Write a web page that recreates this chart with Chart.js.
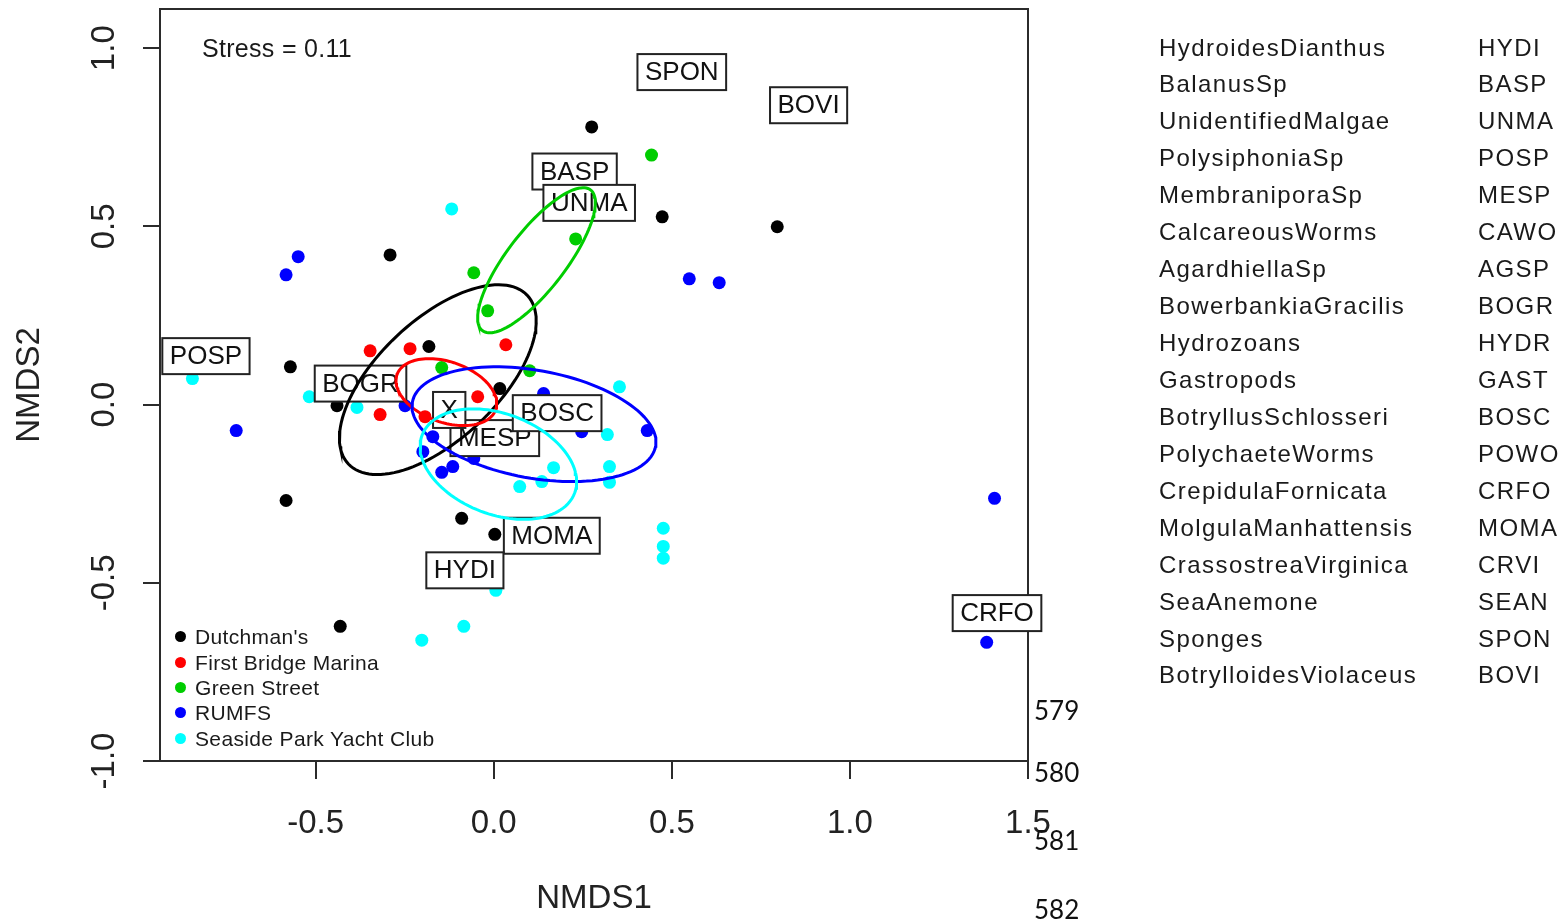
<!DOCTYPE html>
<html>
<head>
<meta charset="utf-8">
<title>NMDS of fouling communities</title>
<script src="https://cdn.jsdelivr.net/npm/chart.js@4.4.0/dist/chart.umd.min.js"></script>
<style>
  body { margin: 0; background: #fff; }
  #wrap { position: relative; width: 1568px; height: 921px; overflow: hidden; background: #fff; }
  #chart { position: absolute; left: 0; top: 0; }
  .txt { position: absolute; font-family: 'Liberation Sans', Arial, sans-serif; color: #1a1a1a; white-space: nowrap; }
  .sp { font-size: 24px; letter-spacing: 1.45px; height: 36.94px; line-height: 36.94px; }
  .leg { font-size: 21px; letter-spacing: 0.35px; height: 25px; line-height: 25px; }
  .dot { position: absolute; width: 11px; height: 11px; border-radius: 50%; }
  .ln { position: absolute; font-family: Lato, 'Open Sans', sans-serif; font-size: 26px; color: #111; line-height: 30px; }
</style>
</head>
<body>
<div id="wrap">
  <canvas id="chart" width="1568" height="921"></canvas>
  <div class="txt" style="left:202px; top:33px; font-size:25px; letter-spacing:0.3px; line-height:30px;">Stress = 0.11</div>
  <div id="legend"></div>
  <div id="species"></div>
  <div id="lineNums"></div>
</div>
<script>
// sites (groups)
const siteNames = ["Dutchman's", "First Bridge Marina", "Green Street", "RUMFS", "Seaside Park Yacht Club"];
const siteColors = ['#000000', '#ff0000', '#00cd00', '#0000ff', '#00ffff'];

// sample scores
const dutchmansX = [0.275, 0.473, 0.796, -0.291, -0.571, -0.182, 0.017, -0.440, -0.583, -0.090, 0.003, -0.431];
const dutchmansY = [0.779, 0.527, 0.499, 0.420, 0.106, 0.163, 0.045, -0.003, -0.269, -0.319, -0.364, -0.622];
const firstBridgeX = [-0.347, -0.235, 0.034, -0.319, -0.045, -0.193];
const firstBridgeY = [0.151, 0.157, 0.168, -0.028, 0.022, -0.034];
const greenStreetX = [0.443, 0.230, -0.056, -0.017, -0.146, 0.101];
const greenStreetY = [0.700, 0.465, 0.370, 0.263, 0.104, 0.095];
const rumfsX = [-0.549, -0.583, 0.549, 0.633, -0.723, 1.406, 1.384, 0.431, -0.171, -0.199, -0.146, -0.115, -0.249, 0.247, 0.140, -0.056];
const rumfsY = [0.415, 0.364, 0.353, 0.342, -0.073, -0.263, -0.667, -0.073, -0.090, -0.132, -0.190, -0.174, -0.003, -0.076, 0.031, -0.151];
const seasideX = [-0.118, -0.846, -0.518, -0.384, 0.353, 0.319, 0.325, 0.325, 0.168, 0.135, 0.073, 0.476, 0.476, 0.476, 0.006, -0.084, -0.202];
const seasideY = [0.549, 0.073, 0.022, -0.008, 0.050, -0.084, -0.174, -0.218, -0.177, -0.216, -0.230, -0.347, -0.398, -0.431, -0.521, -0.622, -0.661];

const siteX = [dutchmansX, firstBridgeX, greenStreetX, rumfsX, seasideX];
const siteY = [dutchmansY, firstBridgeY, greenStreetY, rumfsY, seasideY];

// group ellipses: centre, semi axes (NMDS units), tilt in degrees
const ellipseCenterX = [-0.157, -0.133, 0.120, 0.113, 0.013];
const ellipseCenterY = [0.070, 0.035, 0.405, -0.055, -0.167];
const ellipseSemiMajor = [0.345, 0.147, 0.249, 0.347, 0.229];
const ellipseSemiMinor = [0.168, 0.085, 0.082, 0.151, 0.141];
const ellipseAngle = [43.3, -19.5, 52.4, -10.3, -20.9];

// species labels shown in the ordination
const labelCodes = ['SPON', 'BOVI', 'BASP', 'UNMA', 'POSP', 'BOGR', 'MESP', 'BOSC', 'X', 'MOMA', 'HYDI', 'CRFO'];
const labelX = [0.528, 0.884, 0.227, 0.268, -0.808, -0.374, 0.003, 0.178, -0.125, 0.163, -0.081, 1.413];
const labelY = [0.933, 0.840, 0.654, 0.566, 0.136, 0.059, -0.094, -0.024, -0.015, -0.368, -0.465, -0.585];

// species key on the right
const speciesNames = ['HydroidesDianthus', 'BalanusSp', 'UnidentifiedMalgae', 'PolysiphoniaSp', 'MembraniporaSp',
  'CalcareousWorms', 'AgardhiellaSp', 'BowerbankiaGracilis', 'Hydrozoans', 'Gastropods', 'BotryllusSchlosseri',
  'PolychaeteWorms', 'CrepidulaFornicata', 'MolgulaManhattensis', 'CrassostreaVirginica', 'SeaAnemone', 'Sponges',
  'BotrylloidesViolaceus'];
const speciesCodes = ['HYDI', 'BASP', 'UNMA', 'POSP', 'MESP', 'CAWO', 'AGSP', 'BOGR', 'HYDR', 'GAST', 'BOSC',
  'POWO', 'CRFO', 'MOMA', 'CRVI', 'SEAN', 'SPON', 'BOVI'];

// axes
const xTickValues = [-0.5, 0.0, 0.5, 1.0, 1.5];
const yTickValues = [-1.0, -0.5, 0.0, 0.5, 1.0];
const xLimits = [-0.937, 1.5];
const yLimits = [-1.0, 1.11];
const stressValue = 0.11;

// document line numbers bleeding into the figure
const docLineNumbers = ['579', '580', '581', '582'];

const axisFont = { family: "'Liberation Sans Narrow', 'Liberation Sans', Arial, sans-serif", size: 33 };

function ellipsePoints(k) {
    const pts = [];
    const th = ellipseAngle[k] * Math.PI / 180;
    for (let i = 0; i <= 120; i++) {
        const t = 2 * Math.PI * i / 120;
        const u = ellipseSemiMajor[k] * Math.cos(t);
        const v = ellipseSemiMinor[k] * Math.sin(t);
        pts.push({
            x: ellipseCenterX[k] + u * Math.cos(th) - v * Math.sin(th),
            y: ellipseCenterY[k] + u * Math.sin(th) + v * Math.cos(th)
        });
    }
    return pts;
}

const datasets = [];
siteNames.forEach((name, i) => {
    datasets.push({
        label: name,
        data: siteX[i].map((x, j) => ({ x: x, y: siteY[i][j] })),
        backgroundColor: siteColors[i],
        borderColor: siteColors[i],
        borderWidth: 0,
        pointRadius: 6.5,
        order: 20 - i
    });
});
siteNames.forEach((name, i) => {
    datasets.push({
        label: name + ' ellipse',
        isEllipse: true,
        data: ellipsePoints(i),
        showLine: true,
        borderColor: siteColors[i],
        borderWidth: 3,
        pointRadius: 0,
        fill: false,
        tension: 0,
        order: 10 - i
    });
});

let labelsDone = false;

function drawSpeciesBoxes(chart) {
    const ctx = chart.ctx;
    const xs = chart.scales.x;
    const ys = chart.scales.y;
    ctx.save();
    ctx.font = "26px 'Liberation Sans', Arial, sans-serif";
    ctx.textAlign = 'center';
    ctx.textBaseline = 'middle';
    labelCodes.forEach((code, i) => {
        const px = xs.getPixelForValue(labelX[i]);
        const py = ys.getPixelForValue(labelY[i]);
        const w = ctx.measureText(code).width + 15;
        const h = 36;
        ctx.fillStyle = '#ffffff';
        ctx.fillRect(px - w / 2, py - h / 2, w, h);
        ctx.strokeStyle = '#222';
        ctx.lineWidth = 2;
        ctx.strokeRect(px - w / 2, py - h / 2, w, h);
        ctx.fillStyle = '#111';
        ctx.fillText(code, px, py + 1);
    });
    ctx.restore();
}

const framePlugin = {
    id: 'framePlugin',
    beforeDatasetsDraw(chart) {
        const a = chart.chartArea;
        const ctx = chart.ctx;
        ctx.save();
        ctx.strokeStyle = '#2b2b2b';
        ctx.lineWidth = 2;
        ctx.strokeRect(a.left, a.top, a.right - a.left, a.bottom - a.top);
        ctx.restore();
        labelsDone = false;
    },
    beforeDatasetDraw(chart, args) {
        if (labelsDone || !chart.data.datasets[args.index].isEllipse) return;
        labelsDone = true;
        drawSpeciesBoxes(chart);
    }
};

const gridOpts = { drawOnChartArea: false, color: '#2b2b2b', lineWidth: 2 };

function fixSize(prop, size) {
    return s => {
        s[prop] = size;
        s.paddingTop = 0;
        s.paddingBottom = 0;
        s.paddingLeft = 0;
        s.paddingRight = 0;
    };
}

new Chart(document.getElementById('chart').getContext('2d'), {
    type: 'scatter',
    data: { datasets },
    options: {
        responsive: false,
        animation: false,
        layout: { padding: { left: 0, top: 9, right: 540, bottom: 0 } },
        plugins: { legend: { display: false }, tooltip: { enabled: false } },
        scales: {
            x: {
                type: 'linear',
                min: xLimits[0],
                max: xLimits[1],
                afterFit: fixSize('height', 160),
                afterBuildTicks: s => { s.ticks = xTickValues.map(v => ({ value: v })); },
                ticks: { callback: v => v.toFixed(1), font: axisFont, color: '#222', padding: 25, maxRotation: 0, autoSkip: false },
                grid: Object.assign({ tickLength: 18 }, gridOpts),
                border: { display: false },
                title: { display: true, text: 'NMDS1', font: axisFont, color: '#222', padding: { top: 0, bottom: 2 } }
            },
            y: {
                type: 'linear',
                min: yLimits[0],
                max: yLimits[1],
                afterFit: fixSize('width', 160),
                afterBuildTicks: s => { s.ticks = yTickValues.map(v => ({ value: v })); },
                ticks: { callback: v => v.toFixed(1), font: axisFont, color: '#222', padding: 10, minRotation: 90, maxRotation: 90, crossAlign: 'center', autoSkip: false },
                grid: Object.assign({ tickLength: 17 }, gridOpts),
                border: { display: false },
                title: { display: true, text: 'NMDS2', font: axisFont, color: '#222', padding: { top: 10, bottom: 0 } }
            }
        }
    },
    plugins: [framePlugin]
});

// legend inside the plot, bottom left
const legendRows = [636, 662, 687, 712, 738];
const legendEl = document.getElementById('legend');
siteNames.forEach((name, i) => {
    const dot = document.createElement('div');
    dot.className = 'dot';
    dot.style.left = (180 - 5.5) + 'px';
    dot.style.top = (legendRows[i] - 5.5) + 'px';
    dot.style.background = siteColors[i];
    legendEl.appendChild(dot);
    const t = document.createElement('div');
    t.className = 'txt leg';
    t.style.left = '195px';
    t.style.top = (legendRows[i] - 12.5) + 'px';
    t.textContent = name;
    legendEl.appendChild(t);
});

// species key
const speciesEl = document.getElementById('species');
speciesNames.forEach((name, i) => {
    const top = 29.5 + i * 36.94;
    const n = document.createElement('div');
    n.className = 'txt sp';
    n.style.left = '1159px';
    n.style.top = top + 'px';
    n.textContent = name;
    speciesEl.appendChild(n);
    const c = document.createElement('div');
    c.className = 'txt sp';
    c.style.left = '1478px';
    c.style.top = top + 'px';
    c.textContent = speciesCodes[i];
    speciesEl.appendChild(c);
});

// line numbers
const lineTops = [695, 757, 825, 894];
const lnEl = document.getElementById('lineNums');
docLineNumbers.forEach((num, i) => {
    const d = document.createElement('div');
    d.className = 'ln';
    d.style.left = '1034px';
    d.style.top = lineTops[i] + 'px';
    d.textContent = num;
    lnEl.appendChild(d);
});
</script>
</body>
</html>
